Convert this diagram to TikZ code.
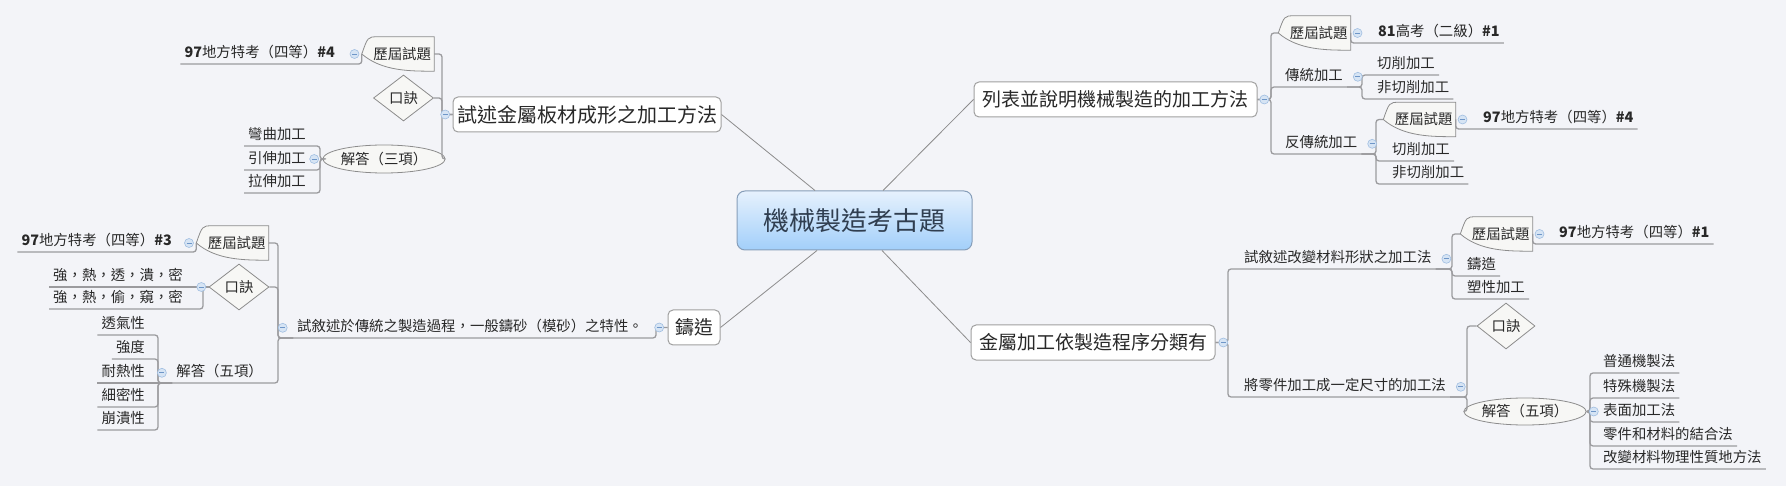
\documentclass[tikz,border=0pt]{standalone}
\usepackage{fontspec}
\setmainfont{Noto Sans CJK TC}
\usetikzlibrary{shapes.geometric, positioning, backgrounds, calc}

\definecolor{bgc}{RGB}{243,244,248}
\definecolor{txt}{RGB}{40,40,40}
\definecolor{boxline}{RGB}{160,160,160}
\definecolor{linkc}{RGB}{155,155,158}
\definecolor{spokec}{RGB}{140,140,140}
\definecolor{roottop}{RGB}{230,241,253}
\definecolor{rootbot}{RGB}{162,207,250}
\definecolor{rootline}{RGB}{135,158,185}
\definecolor{roottxt}{RGB}{48,62,80}
\definecolor{shapeline}{RGB}{140,140,140}
\definecolor{shapefill}{RGB}{247,247,245}
\definecolor{togfill}{RGB}{214,228,244}
\definecolor{togline}{RGB}{160,190,225}
\definecolor{togminus}{RGB}{110,150,200}

\begin{document}
\begin{tikzpicture}[x=1pt, y=-1pt,
  root/.style={rectangle, draw=rootline, line width=1pt, rounded corners=8pt, top color=roottop, bottom color=rootbot, minimum width=235pt, minimum height=59pt, font=\fontsize{26}{30}\selectfont, text=roottxt},
  topic/.style={rectangle, draw=boxline, line width=1pt, fill=white, rounded corners=5pt, minimum height=35pt, inner xsep=4pt, font=\fontsize{19}{22}\selectfont, text=txt},
  leaf/.style={font=\fontsize{14.4}{16}\selectfont, text=txt, inner xsep=4pt, inner ysep=3pt, text height=11pt, text depth=3pt},
  qnode/.style={minimum width=72pt, minimum height=34pt, inner sep=0pt, text width=66pt, align=right, font=\fontsize{14.4}{16}\selectfont, text=txt},
  qbody/.style={draw=shapeline, fill=shapefill, line width=0.8pt},
  dia/.style={diamond, draw=shapeline, fill=shapefill, line width=0.8pt, minimum width=60pt, minimum height=46pt, inner sep=0pt, font=\fontsize{14.4}{16}\selectfont, text=txt},
  ell/.style={ellipse, draw=shapeline, fill=shapefill, line width=0.8pt, minimum width=100pt, minimum height=28pt, inner sep=0pt, font=\fontsize{14.4}{16}\selectfont, text=txt},
  tog/.style={circle, draw=togline, fill=togfill, line width=0.6pt, minimum size=9pt, inner sep=0pt,
    path picture={\draw[togminus, line width=0.8pt] ([xshift=-2.5pt]path picture bounding box.center) -- ([xshift=2.5pt]path picture bounding box.center);}},
  link/.style={draw=linkc, line width=1.3pt, rounded corners=3pt},
  spoke/.style={draw=spokec, line width=0.8pt}]

% central topic and main branches
\node[root] (root) at (854.5,220.5) {機械製造考古題};
\node[topic, minimum width=264pt, font=\fontsize{20}{22}\selectfont] (plate) at (587,114.5) {試述金屬板材成形之加工方法};
\node[topic, minimum width=283pt] (method) at (1115.5,99.5) {列表並說明機械製造的加工方法};
\node[topic, minimum width=52pt] (cast) at (694,327.5) {鑄造};
\node[topic, minimum width=244pt] (sort) at (1093,342.5) {金屬加工依製造程序分類有};

\draw[spoke] ([xshift=-39.5pt]root.north) -- (plate.east);
\draw[spoke] ([xshift=28.5pt]root.north) -- (method.west);
\draw[spoke] ([xshift=-37.5pt]root.south) -- (cast.east);
\draw[spoke] ([xshift=27.5pt]root.south) -- (sort.west);

% bus lines
\coordinate (bplate) at (442,0);
\coordinate (bans3) at (320,0);
\coordinate (bcast) at (656,0);
\coordinate (bprop) at (278,0);
\coordinate (bverse2) at (203,0);
\coordinate (bans5) at (158,0);
\coordinate (bmethod) at (1271,0);
\coordinate (btrad) at (1362,0);
\coordinate (banti) at (1376,0);
\coordinate (bsort) at (1228,0);
\coordinate (bshape) at (1452,0);
\coordinate (bsize) at (1467,0);
\coordinate (bans5r) at (1590,0);

% plate branch
\node[qnode] (q1) at (398,54) {歷屆試題};
\node[dia] (verse1) at (403.5,98) {口訣};
\node[ell] (ans3) at (384,159) {解答（三項）};
\node[leaf, anchor=south east] (exam4a) at (339,64) {{\bfseries 97}地方特考（四等）{\bfseries\#4}};
\node[leaf, anchor=south east] (bend) at (310,146) {彎曲加工};
\node[leaf, anchor=south east] (draw1) at (310,170) {引伸加工};
\node[leaf, anchor=south east] (draw2) at (310,193) {拉伸加工};

\draw[link] (plate.west) -| (bplate |- q1.east) -- (q1.east);
\draw[link] (plate.west) -| (bplate |- verse1.east) -- (verse1.east);
\draw[link] (plate.west) -| (bplate |- ans3.east) -- (ans3.east);
\draw[link] (q1.west) |- (exam4a.south west);
\draw[link] (ans3.west) -| (bans3 |- bend.south) -- (bend.south west);
\draw[link] (ans3.west) -| (bans3 |- draw1.south) -- (draw1.south west);
\draw[link] (ans3.west) -| (bans3 |- draw2.south) -- (draw2.south west);

% cast branch
\node[leaf, anchor=south east] (prop) at (647,338) {試敘述於傳統之製造過程，一般鑄砂（模砂）之特性。};
\node[qnode] (q5) at (232.5,243) {歷屆試題};
\node[dia] (verse2) at (239,287) {口訣};
\node[leaf, anchor=south east] (ans5) at (267,383) {解答（五項）};
\node[leaf, anchor=south east] (exam3) at (176,252) {{\bfseries 97}地方特考（四等）{\bfseries\#3}};
\node[leaf, anchor=south east] (mnem1) at (187,287) {強，熱，透，潰，密};
\node[leaf, anchor=south east] (mnem2) at (187,309) {強，熱，偷，窺，密};
\node[leaf, anchor=south east] (perm) at (149,335) {透氣性};
\node[leaf, anchor=south east] (strength) at (149,359) {強度};
\node[leaf, anchor=south east] (heat) at (149,383) {耐熱性};
\node[leaf, anchor=south east] (fine) at (149,407) {細密性};
\node[leaf, anchor=south east] (collapse) at (149,430) {崩潰性};

\draw[link] (cast.west) -| (bcast |- prop.south) -- (prop.south west);
\draw[link] (prop.south west) -| (bprop |- q5.east) -- (q5.east);
\draw[link] (prop.south west) -| (bprop |- verse2.east) -- (verse2.east);
\draw[link] (prop.south west) -| (bprop |- ans5.south) -- (ans5.south west);
\draw[link] (q5.west) |- (exam3.south west);
\draw[link] (verse2.west) -- (mnem1.south west);
\draw[link] (verse2.west) -| (bverse2 |- mnem2.south) -- (mnem2.south west);
\draw[link] (ans5.south west) -| (bans5 |- perm.south) -- (perm.south west);
\draw[link] (ans5.south west) -| (bans5 |- strength.south) -- (strength.south west);
\draw[link] (ans5.south west) -- (heat.south west);
\draw[link] (ans5.south west) -| (bans5 |- fine.south) -- (fine.south west);
\draw[link] (ans5.south west) -| (bans5 |- collapse.south) -- (collapse.south west);

% method branch
\node[qnode] (qm) at (1314.5,33) {歷屆試題};
\node[leaf, anchor=south west] (trad) at (1281,87) {傳統加工};
\node[leaf, anchor=south west] (anti) at (1281,154) {反傳統加工};
\node[leaf, anchor=south west] (hi81) at (1374,43) {{\bfseries 81}高考（二級）{\bfseries\#1}};
\node[leaf, anchor=south west] (cut1) at (1373,75) {切削加工};
\node[leaf, anchor=south west] (noncut1) at (1373,99) {非切削加工};
\node[qnode] (q3) at (1419.5,119.5) {歷屆試題};
\node[leaf, anchor=south west] (cut2) at (1388,161) {切削加工};
\node[leaf, anchor=south west] (noncut2) at (1388,184) {非切削加工};
\node[leaf, anchor=south west] (exam4b) at (1479,129) {{\bfseries 97}地方特考（四等）{\bfseries\#4}};

\draw[link] (method.east) -| (bmethod |- qm.west) -- (qm.west);
\draw[link] (method.east) -| (bmethod |- trad.south) -- (trad.south east);
\draw[link] (method.east) -| (bmethod |- anti.south) -- (anti.south east);
\draw[link] (qm.east) |- (hi81.south east);
\draw[link] (trad.south east) -| (btrad |- cut1.south) -- (cut1.south east);
\draw[link] (trad.south east) -| (btrad |- noncut1.south) -- (noncut1.south east);
\draw[link] (anti.south east) -| (banti |- q3.west) -- (q3.west);
\draw[link] (anti.south east) -| (banti |- cut2.south) -- (cut2.south east);
\draw[link] (anti.south east) -| (banti |- noncut2.south) -- (noncut2.south east);
\draw[link] (q3.east) |- (exam4b.south east);

% sort branch
\node[leaf, anchor=south west] (shape) at (1240,269) {試敘述改變材料形狀之加工法};
\node[leaf, anchor=south west] (size) at (1240,397) {將零件加工成一定尺寸的加工法};
\node[qnode] (q4) at (1496.5,234) {歷屆試題};
\node[leaf, anchor=south west] (casting) at (1463,276) {鑄造};
\node[leaf, anchor=south west] (plastic) at (1463,299) {塑性加工};
\node[leaf, anchor=south west] (exam1) at (1555,244) {{\bfseries 97}地方特考（四等）{\bfseries\#1}};
\node[dia, minimum width=58pt] (verse3) at (1506,326) {口訣};
\node[ell, minimum height=27pt] (ans5r) at (1525,411.5) {解答（五項）};
\node[leaf, anchor=south west] (common) at (1599,373) {普通機製法};
\node[leaf, anchor=south west] (special) at (1599,398) {特殊機製法};
\node[leaf, anchor=south west] (surface) at (1599,422) {表面加工法};
\node[leaf, anchor=south west] (joint) at (1599,446) {零件和材料的結合法};
\node[leaf, anchor=south west] (physic) at (1599,469) {改變材料物理性質地方法};

\draw[link] (sort.east) -| (bsort |- shape.south) -- (shape.south east);
\draw[link] (sort.east) -| (bsort |- size.south) -- (size.south east);
\draw[link] (shape.south east) -| (bshape |- q4.west) -- (q4.west);
\draw[link] (shape.south east) -| (bshape |- casting.south) -- (casting.south east);
\draw[link] (shape.south east) -| (bshape |- plastic.south) -- (plastic.south east);
\draw[link] (q4.east) |- (exam1.south east);
\draw[link] (size.south east) -| (bsize |- verse3.west) -- (verse3.west);
\draw[link] (size.south east) -| (bsize |- ans5r.west) -- (ans5r.west);
\foreach \n in {common,special,surface,joint,physic}
  \draw[link] (ans5r.east) -| (bans5r |- \n.south) -- (\n.south east);

% collapse toggles
\node[tog, left=2.5pt of plate] (tplate) {};
\node[tog, left=2.5pt of q1] (tq1) {};
\node[tog, left=3.5pt of ans3] (tans3) {};
\node[tog, left=3.5pt of cast] (tcast) {};
\node[tog, left=5.5pt of prop] (tprop) {};
\node[tog, left=2.5pt of q5] (tq5) {};
\node[tog, left=2.5pt of verse2] (tverse2) {};
\node[tog, left=5.5pt of ans5] (tans5) {};
\node[tog, right=2pt of method] (tmethod) {};
\node[tog, right=2pt of qm] (tqm) {};
\node[tog, right=6pt of trad] (ttrad) {};
\node[tog, right=6pt of anti] (tanti) {};
\node[tog, right=2pt of q3] (tq3) {};
\node[tog, right=3pt of sort] (tsort) {};
\node[tog, right=6pt of shape] (tshape) {};
\node[tog, right=2pt of q4] (tq4) {};
\node[tog, right=6pt of size] (tsize) {};
\node[tog, right=2.5pt of ans5r] (tans5r) {};

% background and exam-question shapes
\begin{scope}[on background layer]
\fill[bgc] (0,0) rectangle (1786,486);
\foreach \n in {q1,q5,qm,q3,q4}
  \filldraw[qbody] (\n.north east) -- ([xshift=16pt]\n.north west) .. controls ([xshift=6pt]\n.north west) .. (\n.west)
    .. controls ([xshift=20pt]\n.south west) and ([xshift=48pt]\n.south west) .. (\n.south east) -- cycle;
\end{scope}
\end{tikzpicture}
\end{document}
